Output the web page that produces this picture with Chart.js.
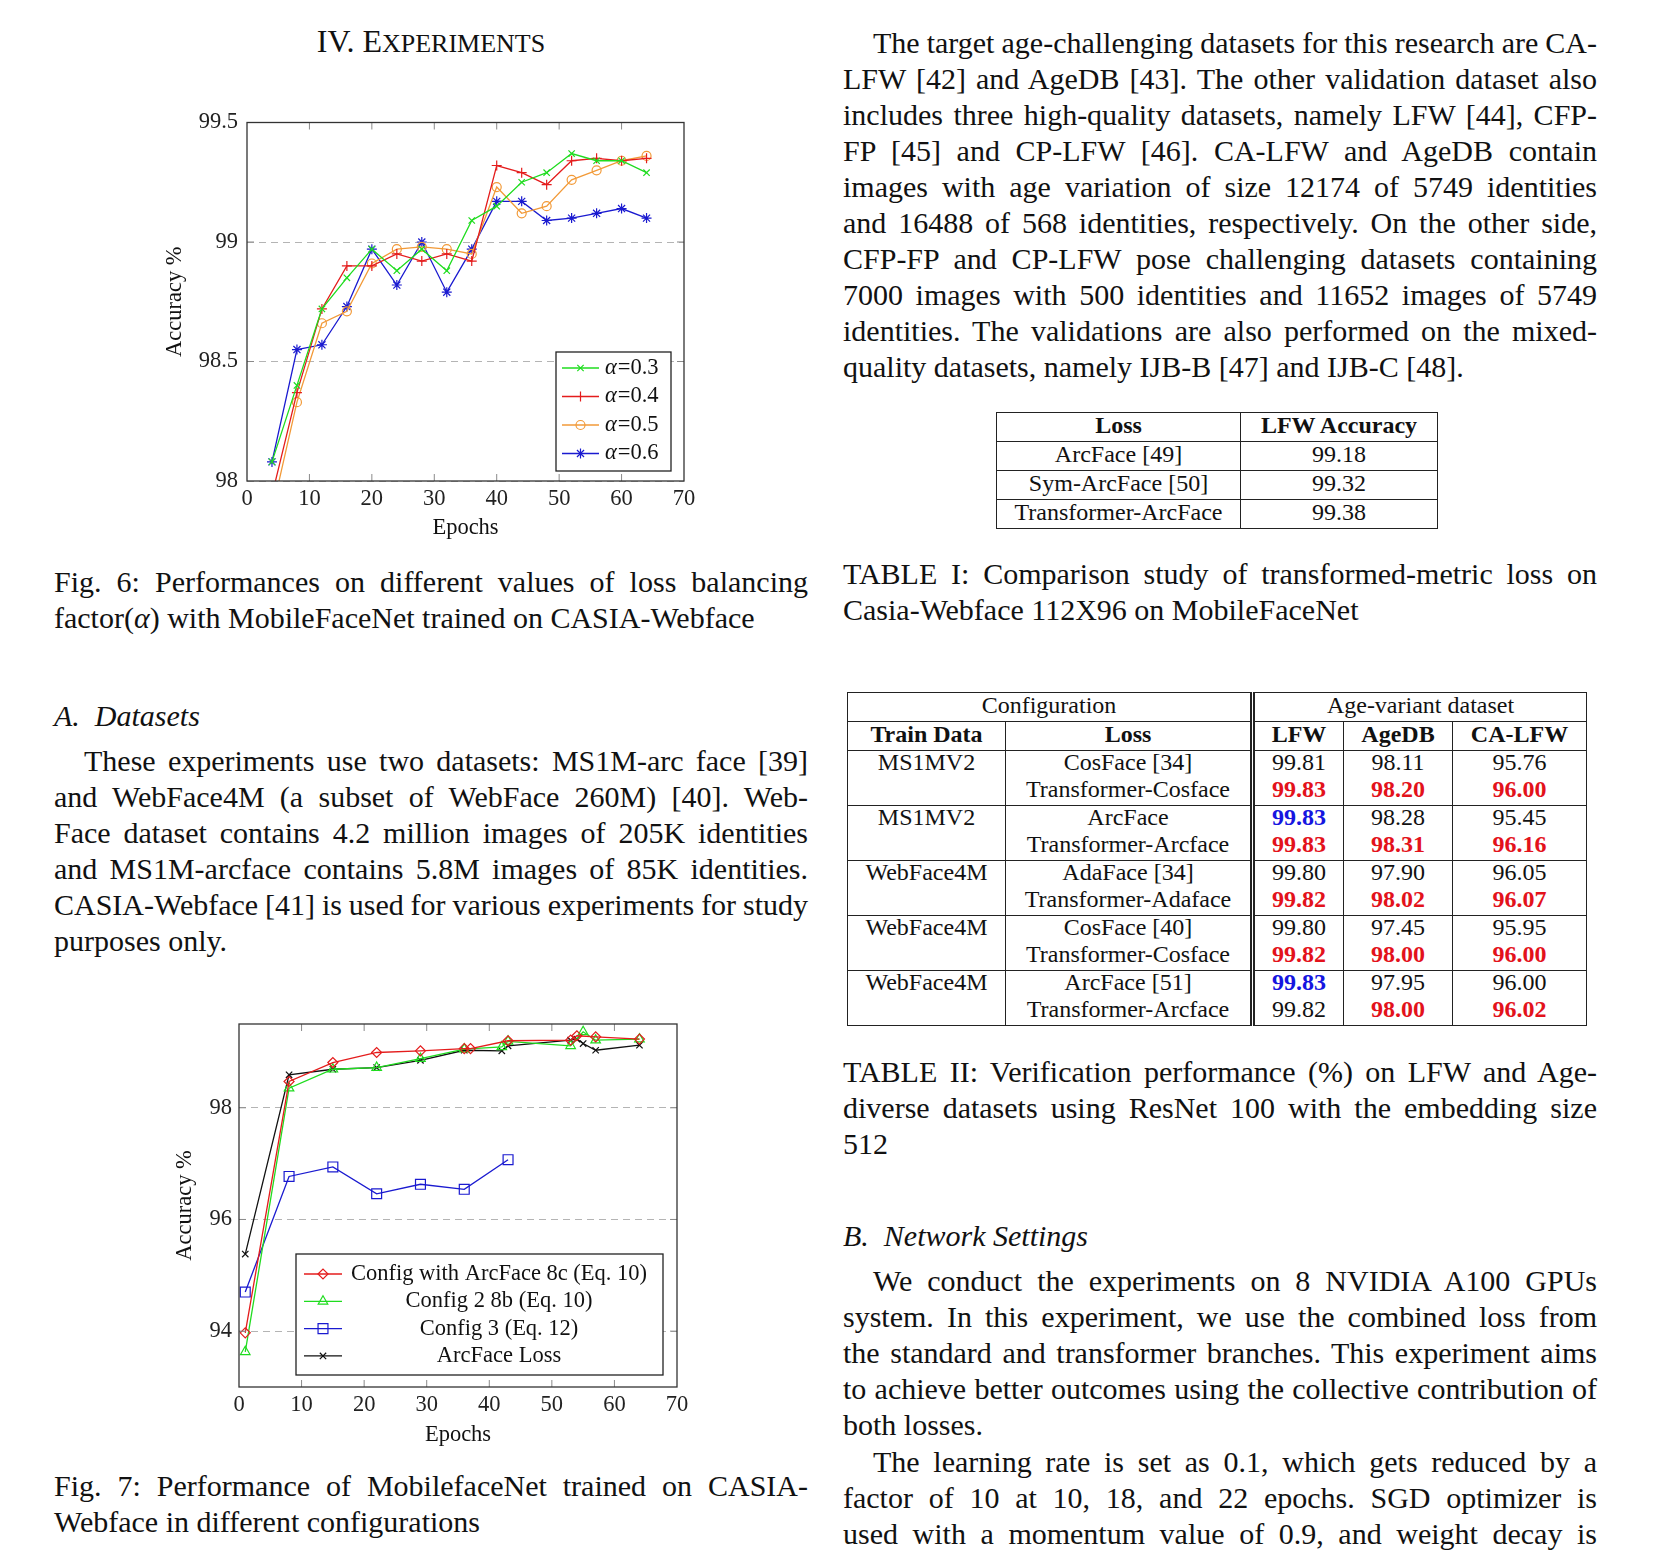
<!DOCTYPE html>
<html>
<head>
<meta charset="utf-8">
<title>Experiments</title>
<script src="https://cdn.jsdelivr.net/npm/chart.js@4.4.0/dist/chart.umd.min.js"></script>
<style>
  html, body { margin: 0; padding: 0; background: #fff; }
  body { width: 1660px; height: 1568px; position: relative; overflow: hidden;
         font-family: "Liberation Serif", "Times New Roman", serif; color: #111; }
  .blk { position: absolute; width: 754px; font-size: 30px; line-height: 36px; }
  .ln { height: 36px; white-space: nowrap; text-align: justify; text-align-last: justify; }
  .ln:not(.last) { word-spacing: -4px; }
  .ln.last { text-align-last: left; }
  .ind { text-indent: 30px; }
  .it { font-style: italic; }
  canvas { position: absolute; }
  table { position: absolute; border-collapse: collapse; table-layout: fixed;
          font-size: 24px; line-height: 24px; }
  td, th { border: 1.5px solid #222; padding: 0 0 4px 0; text-align: center; vertical-align: middle; }
  th { font-weight: bold; }
  .t2 td.grp { padding: 0; vertical-align: top; }
  .t2 .l { height: 27px; line-height: 22px; }
  .dbl { border-right: 5px double #222; }
  .r { color: #e3121b; font-weight: bold; }
  .b { color: #1515e0; font-weight: bold; }
</style>
</head>
<body>

<div class="blk" style="left:54px; top:23px; text-align:center; font-size:32px;">IV. E<span style="font-size:26px">XPERIMENTS</span></div>

<canvas id="fig6" width="560" height="450" style="left:150px; top:100px; width:560px; height:450px;"></canvas>

<div class="blk" style="left:54px; top:564px;">
  <div class="ln">Fig. 6: Performances on different values of loss balancing</div>
  <div class="ln last">factor(<span class="it">α</span>) with MobileFaceNet trained on CASIA-Webface</div>
</div>

<div class="blk it" style="left:54px; top:698px;">A. &nbsp;Datasets</div>

<div class="blk" style="left:54px; top:743px;">
  <div class="ln ind">These experiments use two datasets: MS1M-arc face [39]</div>
  <div class="ln">and WebFace4M (a subset of WebFace 260M) [40]. Web-</div>
  <div class="ln">Face dataset contains 4.2 million images of 205K identities</div>
  <div class="ln">and MS1M-arcface contains 5.8M images of 85K identities.</div>
  <div class="ln">CASIA-Webface [41] is used for various experiments for study</div>
  <div class="ln last">purposes only.</div>
</div>

<canvas id="fig7" width="560" height="457" style="left:160px; top:1000px; width:560px; height:457px;"></canvas>

<div class="blk" style="left:54px; top:1468px;">
  <div class="ln">Fig. 7: Performance of MobilefaceNet trained on CASIA-</div>
  <div class="ln last">Webface in different configurations</div>
</div>

<div class="blk" style="left:843px; top:25px;">
  <div class="ln ind">The target age-challenging datasets for this research are CA-</div>
  <div class="ln">LFW [42] and AgeDB [43]. The other validation dataset also</div>
  <div class="ln">includes three high-quality datasets, namely LFW [44], CFP-</div>
  <div class="ln">FP [45] and CP-LFW [46]. CA-LFW and AgeDB contain</div>
  <div class="ln">images with age variation of size 12174 of 5749 identities</div>
  <div class="ln">and 16488 of 568 identities, respectively. On the other side,</div>
  <div class="ln">CFP-FP and CP-LFW pose challenging datasets containing</div>
  <div class="ln">7000 images with 500 identities and 11652 images of 5749</div>
  <div class="ln">identities. The validations are also performed on the mixed-</div>
  <div class="ln last">quality datasets, namely IJB-B [47] and IJB-C [48].</div>
</div>

<table style="left:996px; top:412px; width:441px;">
  <colgroup><col style="width:244px"><col style="width:197px"></colgroup>
  <tr style="height:28px"><th>Loss</th><th>LFW Accuracy</th></tr>
  <tr style="height:28px"><td>ArcFace [49]</td><td>99.18</td></tr>
  <tr style="height:28px"><td>Sym-ArcFace [50]</td><td>99.32</td></tr>
  <tr style="height:28px"><td>Transformer-ArcFace</td><td>99.38</td></tr>
</table>

<div class="blk" style="left:843px; top:556px;">
  <div class="ln">TABLE I: Comparison study of transformed-metric loss on</div>
  <div class="ln last">Casia-Webface 112X96 on MobileFaceNet</div>
</div>

<table class="t2" style="left:847px; top:692px; width:739px;">
  <colgroup><col style="width:158px"><col style="width:247px"><col style="width:91px"><col style="width:109px"><col style="width:134px"></colgroup>
  <tr style="height:28px"><td colspan="2" class="dbl">Configuration</td><td colspan="3">Age-variant dataset</td></tr>
  <tr style="height:28px"><th>Train Data</th><th class="dbl">Loss</th><th>LFW</th><th>AgeDB</th><th>CA-LFW</th></tr>
  <tr style="height:55px"><td class="grp"><div class="l">MS1MV2</div></td>
    <td class="grp dbl"><div class="l">CosFace [34]</div><div class="l">Transformer-Cosface</div></td>
    <td class="grp"><div class="l">99.81</div><div class="l r">99.83</div></td>
    <td class="grp"><div class="l">98.11</div><div class="l r">98.20</div></td>
    <td class="grp"><div class="l">95.76</div><div class="l r">96.00</div></td></tr>
  <tr style="height:55px"><td class="grp"><div class="l">MS1MV2</div></td>
    <td class="grp dbl"><div class="l">ArcFace</div><div class="l">Transformer-Arcface</div></td>
    <td class="grp"><div class="l b">99.83</div><div class="l r">99.83</div></td>
    <td class="grp"><div class="l">98.28</div><div class="l r">98.31</div></td>
    <td class="grp"><div class="l">95.45</div><div class="l r">96.16</div></td></tr>
  <tr style="height:55px"><td class="grp"><div class="l">WebFace4M</div></td>
    <td class="grp dbl"><div class="l">AdaFace [34]</div><div class="l">Transformer-Adaface</div></td>
    <td class="grp"><div class="l">99.80</div><div class="l r">99.82</div></td>
    <td class="grp"><div class="l">97.90</div><div class="l r">98.02</div></td>
    <td class="grp"><div class="l">96.05</div><div class="l r">96.07</div></td></tr>
  <tr style="height:55px"><td class="grp"><div class="l">WebFace4M</div></td>
    <td class="grp dbl"><div class="l">CosFace [40]</div><div class="l">Transformer-Cosface</div></td>
    <td class="grp"><div class="l">99.80</div><div class="l r">99.82</div></td>
    <td class="grp"><div class="l">97.45</div><div class="l r">98.00</div></td>
    <td class="grp"><div class="l">95.95</div><div class="l r">96.00</div></td></tr>
  <tr style="height:55px"><td class="grp"><div class="l">WebFace4M</div></td>
    <td class="grp dbl"><div class="l">ArcFace [51]</div><div class="l">Transformer-Arcface</div></td>
    <td class="grp"><div class="l b">99.83</div><div class="l">99.82</div></td>
    <td class="grp"><div class="l">97.95</div><div class="l r">98.00</div></td>
    <td class="grp"><div class="l">96.00</div><div class="l r">96.02</div></td></tr>
</table>

<div class="blk" style="left:843px; top:1054px;">
  <div class="ln">TABLE II: Verification performance (%) on LFW and Age-</div>
  <div class="ln">diverse datasets using ResNet 100 with the embedding size</div>
  <div class="ln last">512</div>
</div>

<div class="blk it" style="left:843px; top:1218px;">B. &nbsp;Network Settings</div>

<div class="blk" style="left:843px; top:1263px;">
  <div class="ln ind">We conduct the experiments on 8 NVIDIA A100 GPUs</div>
  <div class="ln">system. In this experiment, we use the combined loss from</div>
  <div class="ln">the standard and transformer branches. This experiment aims</div>
  <div class="ln">to achieve better outcomes using the collective contribution of</div>
  <div class="ln last">both losses.</div>
</div>

<div class="blk" style="left:843px; top:1444px;">
  <div class="ln ind">The learning rate is set as 0.1, which gets reduced by a</div>
  <div class="ln">factor of 10 at 10, 18, and 22 epochs. SGD optimizer is</div>
  <div class="ln">used with a momentum value of 0.9, and weight decay is</div>
</div>

<script>
// Fig. 6 — accuracy vs epochs for several loss balancing factors
var epochs6 = [4, 8, 12, 16, 20, 24, 28, 32, 36, 40, 44, 48, 52, 56, 60, 64];
var acc03 = [98.08, 98.40, 98.72, 98.85, 98.97, 98.88, 98.97, 98.88, 99.09, 99.15, 99.25, 99.29, 99.37, 99.34, 99.34, 99.29];
var acc04 = [97.94, 98.37, 98.72, 98.90, 98.90, 98.95, 98.92, 98.95, 98.92, 99.32, 99.29, 99.24, 99.34, 99.35, 99.34, 99.35];
var acc05 = [97.87, 98.33, 98.66, 98.71, 98.91, 98.97, 98.98, 98.97, 98.95, 99.23, 99.12, 99.15, 99.26, 99.30, 99.34, 99.36];
var acc06 = [98.08, 98.55, 98.57, 98.73, 98.97, 98.82, 99.00, 98.79, 98.97, 99.17, 99.17, 99.09, 99.10, 99.12, 99.14, 99.10];
var labels6 = ['α=0.3', 'α=0.4', 'α=0.5', 'α=0.6'];
var yTicks6 = [98, 98.5, 99, 99.5];

// Fig. 7 — accuracy vs epochs for different configurations
var epochsCfg1 = [1, 8, 15, 22, 29, 36, 37, 43, 53, 54, 57, 64];
var accCfg1 = [93.97, 98.47, 98.81, 98.99, 99.02, 99.06, 99.06, 99.20, 99.21, 99.29, 99.27, 99.23];
var epochsCfg2 = [1, 8, 15, 22, 29, 36, 42, 43, 53, 55, 57, 64];
var accCfg2 = [93.63, 98.35, 98.69, 98.72, 98.88, 99.05, 99.09, 99.19, 99.11, 99.36, 99.21, 99.23];
var epochsCfg3 = [1, 8, 15, 22, 29, 36, 43];
var accCfg3 = [94.70, 96.77, 96.94, 96.46, 96.63, 96.54, 97.07];
var epochsArc = [1, 8, 15, 22, 29, 36, 42, 43, 53, 54, 55, 57, 64];
var accArc = [95.38, 98.59, 98.69, 98.72, 98.85, 99.03, 99.02, 99.11, 99.21, 99.23, 99.15, 99.03, 99.12];
var labels7 = ['Config with ArcFace 8c (Eq. 10)', 'Config 2 8b (Eq. 10)', 'Config 3 (Eq. 12)', 'ArcFace Loss'];
var yTicks7 = [94, 96, 98];

var xTicks = [0, 10, 20, 30, 40, 50, 60, 70];

(function(){
  var FONT = '"Liberation Serif", "Times New Roman", serif';
  var FS = 22.5;
  var GREEN = '#1fdc1f', RED = '#e41c1c', ORANGE = '#f29a38', BLUE = '#1a1ad0', BLACK = '#111111';
  var NONE = 'rgba(0,0,0,0)';

  function pts(xs, ys){ return xs.map(function(x, i){ return {x: x, y: ys[i]}; }); }

  function series(label, xs, ys, color, style, radius){
    return {
      label: label,
      data: pts(xs, ys),
      borderColor: color,
      backgroundColor: NONE,
      borderWidth: 1.3,
      pointStyle: style,
      pointRadius: radius,
      pointBorderColor: color,
      pointBackgroundColor: NONE,
      pointBorderWidth: 1.2,
      tension: 0,
      clip: 0
    };
  }

  function drawLabel(ctx, text, x, y, align){
    ctx.fillStyle = '#111';
    ctx.textBaseline = 'middle';
    if (text.charAt(0) === 'α') {
      var rest = text.slice(1);
      ctx.font = 'italic ' + FS + 'px ' + FONT;
      var wa = ctx.measureText('α').width;
      ctx.font = FS + 'px ' + FONT;
      var wr = ctx.measureText(rest).width;
      var x0 = align === 'center' ? x - (wa + wr) / 2 : x;
      ctx.textAlign = 'left';
      ctx.font = 'italic ' + FS + 'px ' + FONT;
      ctx.fillText('α', x0, y);
      ctx.font = FS + 'px ' + FONT;
      ctx.fillText(rest, x0 + wa + 1, y);
    } else {
      ctx.font = FS + 'px ' + FONT;
      ctx.textAlign = align;
      ctx.fillText(text, x, y);
    }
  }

  // frame, inward tick marks and a pgfplots-like legend box
  var paperAxes = {
    id: 'paperAxes',
    afterDraw: function(chart, args, opts){
      var ctx = chart.ctx, a = chart.chartArea;
      var xs = chart.scales.x, ys = chart.scales.y;
      ctx.save();
      ctx.strokeStyle = '#8a8a8a';
      ctx.lineWidth = 1;
      xs.ticks.forEach(function(t){
        var px = xs.getPixelForValue(t.value);
        if (px <= a.left + 1 || px >= a.right - 1) return;
        ctx.beginPath();
        ctx.moveTo(px, a.bottom); ctx.lineTo(px, a.bottom - 7);
        ctx.moveTo(px, a.top); ctx.lineTo(px, a.top + 7);
        ctx.stroke();
      });
      ys.ticks.forEach(function(t){
        var py = ys.getPixelForValue(t.value);
        if (py <= a.top + 1 || py >= a.bottom - 1) return;
        ctx.beginPath();
        ctx.moveTo(a.left, py); ctx.lineTo(a.left + 7, py);
        ctx.moveTo(a.right, py); ctx.lineTo(a.right - 7, py);
        ctx.stroke();
      });
      ctx.strokeStyle = '#333';
      ctx.lineWidth = 1.3;
      ctx.strokeRect(a.left, a.top, a.right - a.left, a.bottom - a.top);

      var L = opts.box;
      if (L) {
        var bx = a.right - L.right - L.w, by = a.bottom - L.bottom - L.h;
        ctx.fillStyle = '#fff';
        ctx.fillRect(bx, by, L.w, L.h);
        ctx.strokeStyle = '#222';
        ctx.lineWidth = 1.3;
        ctx.strokeRect(bx, by, L.w, L.h);
        chart.data.datasets.forEach(function(ds, i){
          var y = by + L.first + i * L.gap;
          ctx.strokeStyle = ds.borderColor;
          ctx.lineWidth = ds.borderWidth;
          ctx.beginPath();
          ctx.moveTo(bx + L.x0, y); ctx.lineTo(bx + L.x1, y);
          ctx.stroke();
          ctx.fillStyle = NONE;
          ctx.lineWidth = ds.pointBorderWidth;
          if (Chart.helpers && Chart.helpers.drawPoint) {
            Chart.helpers.drawPoint(ctx, {pointStyle: ds.pointStyle, radius: ds.pointRadius, rotation: 0, borderWidth: ds.pointBorderWidth}, bx + L.mx, y);
          }
          drawLabel(ctx, ds.label, bx + L.tx, y, L.align);
        });
      }
      ctx.restore();
    }
  };

  function makeChart(id, datasets, cfg){
    var el = document.getElementById(id);
    return new Chart(el.getContext('2d'), {
      type: 'line',
      data: { datasets: datasets },
      options: {
        responsive: false,
        animation: false,
        events: [],
        layout: { padding: cfg.padding },
        plugins: {
          legend: { display: false },
          tooltip: { enabled: false },
          paperAxes: { box: cfg.legend }
        },
        scales: {
          x: {
            type: 'linear', min: 0, max: 70,
            afterBuildTicks: function(s){ s.ticks = xTicks.map(function(v){ return {value: v}; }); },
            afterFit: function(s){ s.height = cfg.xHeight; },
            grid: { display: false, drawTicks: false },
            border: { display: false },
            ticks: { color: '#222', padding: 5, maxRotation: 0, font: { family: FONT, size: FS }, callback: function(v){ return String(v); } },
            title: { display: true, text: 'Epochs', color: '#111', padding: { top: 0, bottom: 8 }, font: { family: FONT, size: FS } }
          },
          y: {
            type: 'linear', min: cfg.yMin, max: cfg.yMax,
            afterBuildTicks: function(s){ s.ticks = cfg.yTicks.map(function(v){ return {value: v}; }); },
            afterFit: function(s){ s.width = cfg.yWidth; },
            grid: { color: '#b4b4b4', lineWidth: 1, drawTicks: false },
            border: { display: false, dash: [7, 5] },
            ticks: { color: '#222', padding: cfg.yPad, font: { family: FONT, size: FS }, callback: function(v){ return String(v); } },
            title: { display: true, text: 'Accuracy %', color: '#111', padding: { top: 12, bottom: 0 }, font: { family: FONT, size: FS } }
          }
        }
      },
      plugins: [paperAxes]
    });
  }

  function start(){
    if (typeof Chart === 'undefined') return;

    makeChart('fig6', [
      series(labels6[0], epochs6, acc03, GREEN, 'crossRot', 4.5),
      series(labels6[1], epochs6, acc04, RED, 'cross', 5),
      series(labels6[2], epochs6, acc05, ORANGE, 'circle', 4.5),
      series(labels6[3], epochs6, acc06, BLUE, 'star', 5)
    ], {
      padding: { left: 0, top: 19, right: 26, bottom: 0 },
      xHeight: 69, yWidth: 97, yPad: 9,
      yMin: 98, yMax: 99.5, yTicks: yTicks6,
      legend: { w: 115, h: 119, right: 13, bottom: 10, first: 16, gap: 28.5, x0: 6, x1: 43, mx: 24.5, tx: 49, align: 'left' }
    });

    makeChart('fig7', [
      series(labels7[0], epochsCfg1, accCfg1, RED, 'rectRot', 5),
      series(labels7[1], epochsCfg2, accCfg2, GREEN, 'triangle', 5.5),
      series(labels7[2], epochsCfg3, accCfg3, BLUE, 'rect', 7),
      series(labels7[3], epochsArc, accArc, BLACK, 'crossRot', 4.5)
    ], {
      padding: { left: 0, top: 24, right: 43, bottom: 0 },
      xHeight: 70, yWidth: 79, yPad: 7,
      yMin: 93, yMax: 99.5, yTicks: yTicks7,
      legend: { w: 367, h: 121, right: 14, bottom: 12, first: 20, gap: 27.3, x0: 8, x1: 46, mx: 27, tx: 203, align: 'center' }
    });
  }

  if (document.readyState === 'loading') {
    document.addEventListener('DOMContentLoaded', start);
  } else { start(); }
})();
</script>
</body>
</html>
